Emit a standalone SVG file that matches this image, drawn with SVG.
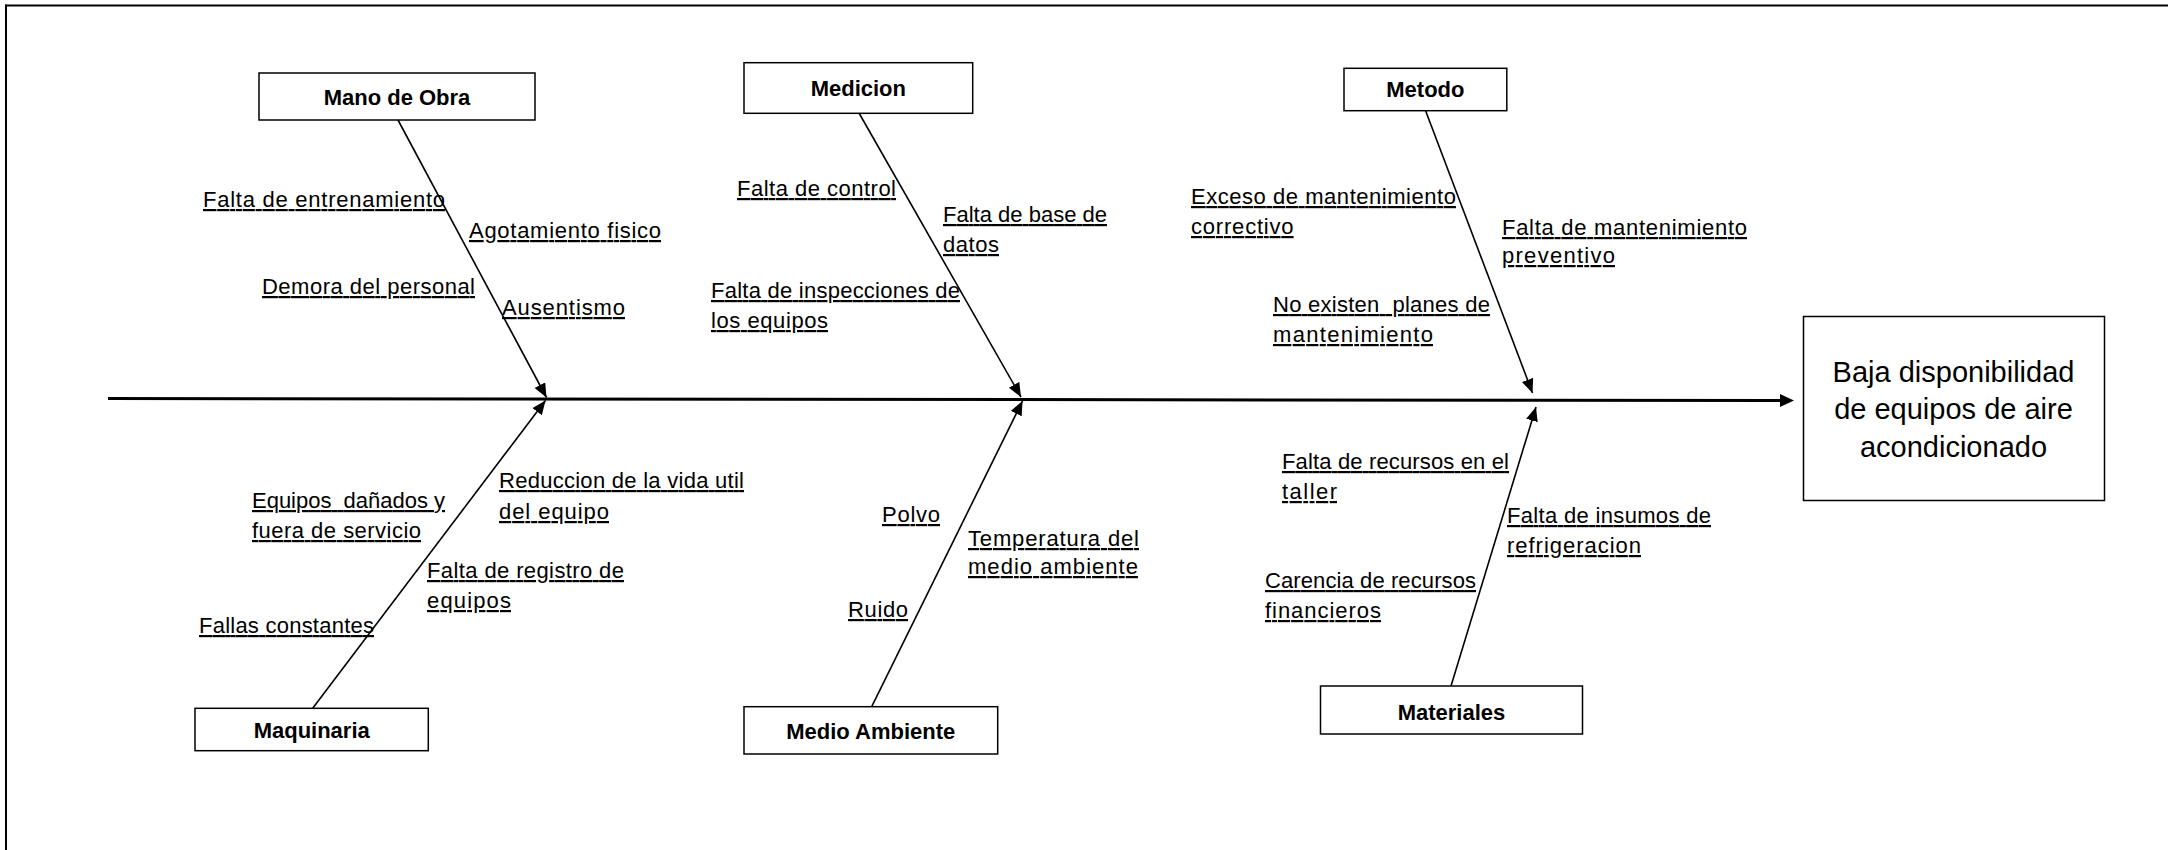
<svg xmlns="http://www.w3.org/2000/svg" width="2168" height="850" viewBox="0 0 2168 850">
<style>
.box{fill:#fff;stroke:#000;stroke-width:1.5}
.hdr{font-family:"Liberation Sans",Arial,sans-serif;font-size:22px;font-weight:bold;text-anchor:middle;fill:#000}
.lbl{font-family:"Liberation Sans",Arial,sans-serif;font-size:22px;fill:#000;text-decoration:underline}
.eff{font-family:"Liberation Sans",Arial,sans-serif;font-size:29px;text-anchor:middle;fill:#000}
.bone{stroke:#000;stroke-width:1.6;fill:none;marker-end:url(#ah)}
.spine{stroke:#000;stroke-width:3;fill:none;marker-end:url(#ahm)}
.frame{stroke:#000;stroke-width:2;fill:none}
</style>
<defs>
<marker id="ah" markerUnits="userSpaceOnUse" markerWidth="16" markerHeight="14" refX="14" refY="6" orient="auto">
<path d="M0,0 L14,6 L0,12 z" fill="#000"/>
</marker>
<marker id="ahm" markerUnits="userSpaceOnUse" markerWidth="16" markerHeight="14" refX="1" refY="6.5" orient="auto">
<path d="M0,0 L14,6.5 L0,13 z" fill="#000"/>
</marker>
</defs>
<rect width="2168" height="850" fill="#fff"/>
<g id="frame">
<line class="frame" x1="5" y1="5.5" x2="2168" y2="5.5"/>
<line class="frame" x1="6" y1="4.5" x2="6" y2="850"/>
</g>
<g id="connectors">
<line class="spine" x1="108" y1="398.5" x2="1781" y2="400.5"/>
<line class="bone" x1="398" y1="120" x2="546.5" y2="397.5"/>
<line class="bone" x1="859" y1="113" x2="1021" y2="397"/>
<line class="bone" x1="1425.6" y1="110.7" x2="1532.5" y2="393"/>
<line class="bone" x1="312.7" y1="708.3" x2="545.5" y2="400.5"/>
<line class="bone" x1="871.7" y1="706.7" x2="1022.5" y2="401"/>
<line class="bone" x1="1451" y1="686" x2="1536" y2="407"/>
</g>
<g id="effect">
<rect class="box" x="1803.5" y="316.5" width="301" height="184"/>
<text class="eff" x="1953.5" y="382">Baja disponibilidad</text>
<text class="eff" x="1953.5" y="419">de equipos de aire</text>
<text class="eff" x="1953.5" y="457">acondicionado</text>
</g>
<g id="mano-de-obra">
<rect class="box" x="259" y="73" width="276" height="47"/>
<text class="hdr" x="397" y="105">Mano de Obra</text>
<text class="lbl" x="203" y="207" textLength="242">Falta de entrenamiento</text>
<text class="lbl" x="469" y="238" textLength="192">Agotamiento fisico</text>
<text class="lbl" x="262" y="294" textLength="213">Demora del personal</text>
<text class="lbl" x="502" y="315" textLength="123">Ausentismo</text>
</g>
<g id="medicion">
<rect class="box" x="744" y="62.7" width="228.7" height="50.6"/>
<text class="hdr" x="858.3" y="95.5">Medicion</text>
<text class="lbl" x="737" y="196" textLength="159">Falta de control</text>
<text class="lbl" x="943" y="222" textLength="164">Falta de base de</text>
<text class="lbl" x="943" y="252" textLength="56">datos</text>
<text class="lbl" x="711" y="298" textLength="249">Falta de inspecciones de</text>
<text class="lbl" x="711" y="328" textLength="117">los equipos</text>
</g>
<g id="metodo">
<rect class="box" x="1344" y="68.3" width="162.8" height="42.4"/>
<text class="hdr" x="1425.4" y="96.5">Metodo</text>
<text class="lbl" x="1191" y="204" textLength="265">Exceso de mantenimiento</text>
<text class="lbl" x="1191" y="234" textLength="102.6">correctivo</text>
<text class="lbl" x="1502" y="235" textLength="245">Falta de mantenimiento</text>
<text class="lbl" x="1502" y="263" textLength="113">preventivo</text>
<text class="lbl" x="1273" y="312" textLength="217" xml:space="preserve">No existen  planes de</text>
<text class="lbl" x="1273" y="342" textLength="160">mantenimiento</text>
</g>
<g id="maquinaria">
<rect class="box" x="195" y="708.3" width="233.3" height="42.4"/>
<text class="hdr" x="311.7" y="738">Maquinaria</text>
<text class="lbl" x="252" y="508" textLength="193" xml:space="preserve">Equipos  dañados y</text>
<text class="lbl" x="252" y="538" textLength="169">fuera de servicio</text>
<text class="lbl" x="499" y="488" textLength="245">Reduccion de la vida util</text>
<text class="lbl" x="499" y="519" textLength="110">del equipo</text>
<text class="lbl" x="427" y="578" textLength="197">Falta de registro de</text>
<text class="lbl" x="427" y="608" textLength="84">equipos</text>
<text class="lbl" x="199" y="633" textLength="175">Fallas constantes</text>
</g>
<g id="medio-ambiente">
<rect class="box" x="744" y="706.7" width="253.7" height="47.3"/>
<text class="hdr" x="870.8" y="739">Medio Ambiente</text>
<text class="lbl" x="882" y="522" textLength="58">Polvo</text>
<text class="lbl" x="968" y="546" textLength="171">Temperatura del</text>
<text class="lbl" x="968" y="574" textLength="170">medio ambiente</text>
<text class="lbl" x="848" y="617" textLength="60">Ruido</text>
</g>
<g id="materiales">
<rect class="box" x="1320.5" y="686" width="262" height="48"/>
<text class="hdr" x="1451.5" y="719.5">Materiales</text>
<text class="lbl" x="1282" y="469" textLength="227">Falta de recursos en el</text>
<text class="lbl" x="1282" y="499" textLength="55">taller</text>
<text class="lbl" x="1507" y="523" textLength="204">Falta de insumos de</text>
<text class="lbl" x="1507" y="553" textLength="134">refrigeracion</text>
<text class="lbl" x="1265" y="588" textLength="211">Carencia de recursos</text>
<text class="lbl" x="1265" y="618" textLength="116">financieros</text>
</g>
</svg>
